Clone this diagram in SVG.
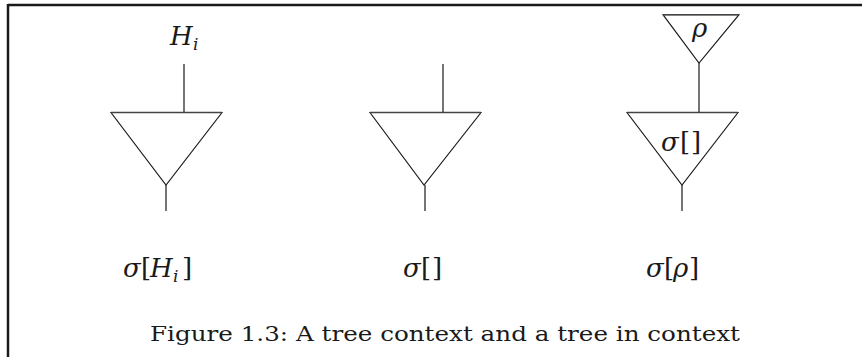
<svg xmlns="http://www.w3.org/2000/svg" width="862" height="357" viewBox="0 0 862 357">
<style>
.frame{stroke:#1a1a1a;stroke-width:2.5;fill:none}
.tri{fill:none;stroke:#1a1a1a;stroke-width:1.1;stroke-linejoin:miter}
.top{stroke:#444;stroke-width:1.6}
.edge{stroke:#3a3a3a;stroke-width:1.4;fill:none}
.m{font-family:'DejaVu Serif','Liberation Serif',serif;font-size:26px;fill:#1a1a1a}
.it{font-style:italic}
.sub{font-size:17px;font-style:italic}
.cap{font-family:'DejaVu Serif','Liberation Serif',serif;font-size:21px;fill:#1a1a1a}
</style>
<rect width="862" height="357" fill="#fff"/>
<g id="frame">
<line class="frame" x1="8" y1="5" x2="862" y2="5"/>
<line class="frame" x1="8" y1="4" x2="8" y2="357"/>
</g>
<g id="tree1">
<path class="tri" d="M111,112.5 L222,112.5 L166,185 Z"/>
<line class="top" x1="111" y1="112.5" x2="222" y2="112.5"/>
<text class="m it" x="170" y="45">H</text><text class="m sub" x="193" y="50">i</text>
</g>
<g id="tree2">
<path class="tri" d="M370,112.5 L481,112.5 L424,185 Z"/>
<line class="top" x1="370" y1="112.5" x2="481" y2="112.5"/>
</g>
<g id="tree3-rho">
<path class="tri" d="M663,14.7 L739,14.7 L699,63 Z"/>
<line class="top" x1="663" y1="14.7" x2="739" y2="14.7"/>
<text class="m it" x="692" y="37">ρ</text>
</g>
<g id="tree3-sigma">
<path class="tri" d="M627,112.5 L738,112.5 L682,185 Z"/>
<line class="top" x1="627" y1="112.5" x2="738" y2="112.5"/>
<text class="m"><tspan class="it" x="661" y="151">σ</tspan><tspan x="680" y="151">[</tspan><tspan x="691" y="151">]</tspan></text>
</g>
<g id="connectors">
<line class="edge" x1="184" y1="64" x2="184" y2="112.5"/>
<line class="edge" x1="166" y1="185" x2="166" y2="211"/>
<line class="edge" x1="443" y1="64" x2="443" y2="112.5"/>
<line class="edge" x1="425" y1="185" x2="425" y2="211"/>
<line class="edge" x1="699" y1="63" x2="699" y2="112.5"/>
<line class="edge" x1="682" y1="185" x2="682" y2="211"/>
</g>
<g id="labels">
<text class="m"><tspan class="it" x="123" y="277">σ</tspan><tspan x="141" y="277">[</tspan><tspan class="it" x="150" y="277">H</tspan><tspan class="sub" x="173" y="282">i</tspan><tspan x="182" y="277">]</tspan></text>
<text class="m"><tspan class="it" x="403" y="277">σ</tspan><tspan x="421" y="277">[</tspan><tspan x="432" y="277">]</tspan></text>
<text class="m"><tspan class="it" x="646" y="277">σ</tspan><tspan x="664" y="277">[</tspan><tspan class="it" x="673" y="277">ρ</tspan><tspan x="689" y="277">]</tspan></text>
<text class="cap" x="150" y="341" textLength="590" lengthAdjust="spacingAndGlyphs">Figure 1.3: A tree context and a tree in context</text>
</g>
</svg>
